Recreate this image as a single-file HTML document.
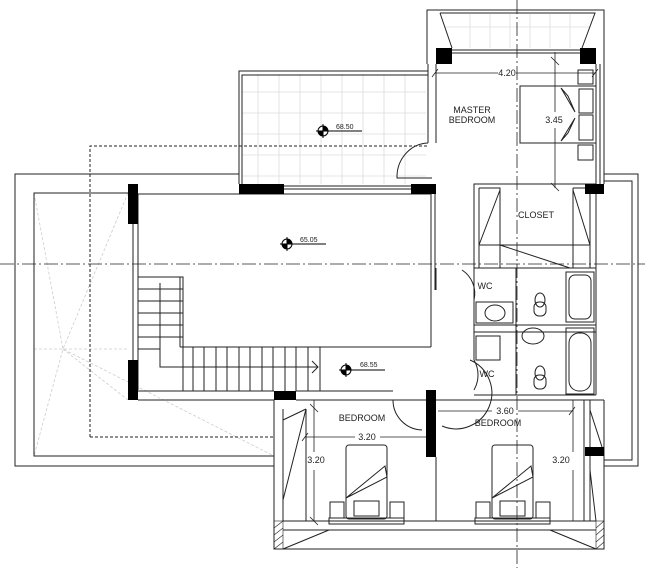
<!DOCTYPE html>
<html><head><style>html,body{margin:0;padding:0;background:#fff}svg{display:block}</style></head><body>
<svg width="645" height="568" viewBox="0 0 645 568" xmlns="http://www.w3.org/2000/svg" font-family="Liberation Sans, sans-serif">
<rect width="645" height="568" fill="#fff"/>
<!-- tiles -->
<g stroke="#ddd" stroke-width="0.8">
<path d="M258 74V184M279 74V184M300 74V184M321 74V184M342 74V184M363 74V184M384 74V184M405 74V184M242 92H426M242 113H426M242 134H426M242 155H426M242 176H426"/>
<path d="M470 14V48M490 14V48M510 14V48M530 14V48M550 14V48M570 14V48M445 27H590"/>
</g>
<!-- roof hip lines -->
<g stroke="#ccc" stroke-width="0.8" stroke-dasharray="3 2" fill="none">
<path d="M34 193L63 349L34 456M128 193L63 349L274 456M34 349H128M63 349L128 400"/>
</g>
<g stroke="#222" stroke-width="1" fill="none">
<!-- roof outline -->
<path d="M239 174H15V466H274"/>
<path d="M128 193H34V456H274"/>
<!-- dashed -->
<path d="M90 437V146H427M90 437H274" stroke-dasharray="3 2"/>
<!-- left balcony -->
<path d="M239 184V71H428M242 184V75H428"/>
<path d="M284 186H411M284 189H411"/>
<path d="M428 143A32 34 0 0 0 397 178H432"/>
<!-- master bedroom -->
<path d="M427 64V10H604V78"/>
<path d="M440 13H595L582 48M440 13L452 48"/>
<path d="M452 50H580M452 53H580"/>
<path d="M428 64V143M436 64V143"/>
<path d="M596 64V184M604 78V184M600 64V184"/>
<!-- bed master -->
<rect x="520" y="86" width="76" height="57"/>
<rect x="578" y="70" width="15" height="14"/><rect x="578" y="145" width="15" height="15"/>
<rect x="579" y="89" width="14" height="24"/><rect x="579" y="115" width="14" height="25"/>
<path d="M561 88L575 112L568 96ZM561 141L575 118L568 133Z"/>
<!-- closet -->
<rect x="474" y="184" width="122" height="84"/>
<path d="M479 188H500V268M479 188V268M573 188H590V268M573 188V268M479 245H590M500 245L570 268M500 190L479 245M573 190L590 245"/>
<!-- right terrace -->
<path d="M604 174H638V466H604M604 181H632V460H604"/>
<!-- living void -->
<path d="M138 194H431M138 194V390M133 224V360"/>
<path d="M431 194V347M435 194V290M180 347H431M180 277V347"/>
<path d="M138 391H274M138 400H274M296 391H393M296 400H393"/>
<path d="M393 400A30 30 0 0 0 422 430"/>
<!-- stairs -->
<path d="M138 277H183V391M160 283V367H318M312 361L318 367L312 373"/>
<path d="M138 289H183M138 301H183M138 313H183M138 325H183M138 337H183M138 349H160"/>
<path d="M193 347V391M204 347V391M216 347V391M227 347V391M239 347V391M250 347V391M262 347V391M273 347V391M285 347V391M296 347V391M308 347V391M320 347V391"/>
<!-- hall / WC -->
<path d="M436 268V290M474 268V360M462 270A28 28 0 0 1 474 300"/>
<path d="M474 325H596M474 332H596M474 395H596M596 268V395M516 268V395"/>
<rect x="476" y="302" width="37" height="21"/><ellipse cx="495" cy="313" rx="10" ry="8"/>
<rect x="476" y="336" width="24" height="24"/>
<ellipse cx="533" cy="336" rx="11" ry="8"/>
<rect x="534" y="302" width="12" height="14" rx="5"/><ellipse cx="540" cy="300" rx="5" ry="7"/>
<rect x="534" y="375" width="12" height="14" rx="5"/><ellipse cx="540" cy="373" rx="5" ry="7"/>
<rect x="566" y="272" width="28" height="50"/><rect x="569" y="275" width="22" height="44" rx="6"/>
<rect x="566" y="328" width="28" height="66"/><rect x="569" y="333" width="22" height="58" rx="10"/>
<path d="M474 360A30 30 0 0 1 474 390"/>
<path d="M470 360A30 30 0 0 1 442 426"/>
<!-- bedrooms -->
<path d="M274 400V549H604V400M296 400H604M283 521H596M283 530H596"/>
<path d="M283 409V521M306 409V521M584 400V521M590 400V521M283 420L306 409M283 500L306 409M590 410L602 447M590 470L596 521"/>
<path d="M283 549L329 530M596 549L550 530M436 457V521"/>
<rect x="329" y="518" width="75" height="6"/><rect x="475" y="518" width="75" height="6"/>
<!-- beds -->
<rect x="346" y="445" width="41" height="74" rx="3"/><rect x="354" y="501" width="25" height="15"/>
<rect x="330" y="502" width="14" height="16"/><rect x="390" y="502" width="14" height="16"/>
<path d="M346 498L385 466L387 477Z"/>
<rect x="492" y="445" width="41" height="74" rx="3"/><rect x="500" y="501" width="25" height="15"/>
<rect x="476" y="502" width="14" height="16"/><rect x="536" y="502" width="14" height="16"/>
<path d="M492 498L531 466L533 477Z"/>
</g>
<!-- dimension lines -->
<g stroke="#222" stroke-width="0.8">
<path d="M435 73H498M516 73H595M432 77L438 69M592 77L598 69"/>
<path d="M555 52V112M555 128V188M551 57L559 65M551 183L559 191"/>
<path d="M305 437H355M380 437H426M302 441L308 433"/>
<path d="M314 400V452M314 470V521M310 404L318 412M310 517L318 525"/>
<path d="M438 411H492M518 411H573M569 415L575 407"/>
<path d="M573 400V452M573 470V521"/>
</g>
<!-- axes -->
<g stroke="#222" stroke-width="0.8" stroke-dasharray="14 3 2 3">
<path d="M517 0V568"/><path d="M0 264H645"/>
</g>
<!-- black walls -->
<g fill="#000">
<rect x="436" y="48" width="16" height="16"/><rect x="580" y="48" width="16" height="16"/>
<rect x="239" y="184" width="45" height="10"/><rect x="411" y="184" width="25" height="10"/>
<rect x="128" y="184" width="10" height="40"/><rect x="128" y="360" width="10" height="40"/>
<rect x="274" y="391" width="22" height="9"/>
<rect x="585" y="184" width="19" height="10"/>
<rect x="426" y="390" width="10" height="67"/>
<rect x="585" y="447" width="19" height="9"/>
</g>
<g fill="none" stroke="#222" stroke-width="0.6">
<rect x="274" y="521" width="9" height="28"/><rect x="596" y="521" width="8" height="28"/>
<path d="M274 528L283 521M274 535L283 528M274 542L283 535M274 549L283 542M596 528L604 521M596 535L604 528M596 542L604 535M596 549L604 542"/>
</g>
<!-- level markers -->
<g stroke="#000" stroke-width="1">
<circle cx="323" cy="131" r="5" fill="#fff"/><path d="M323 124V138M316 131H362"/>
<circle cx="287" cy="244" r="5" fill="#fff"/><path d="M287 237V251M280 244H326"/>
<circle cx="346" cy="370" r="5" fill="#fff"/><path d="M346 363V377M339 370H385"/>
</g>
<path d="M323 126A5 5 0 0 1 328 131H323ZM323 136A5 5 0 0 1 318 131H323Z" fill="#000"/>
<path d="M287 239A5 5 0 0 1 292 244H287ZM287 249A5 5 0 0 1 282 244H287Z" fill="#000"/>
<path d="M346 365A5 5 0 0 1 351 370H346ZM346 375A5 5 0 0 1 341 370H346Z" fill="#000"/>
<g font-size="7" fill="#222">
<text x="336" y="129">68.50</text><text x="300" y="242">65.05</text><text x="360" y="367">68.55</text>
</g>
<g font-size="9" fill="#222" text-anchor="middle">
<text x="472" y="113">MASTER</text><text x="472" y="123">BEDROOM</text>
<text x="536" y="218">CLOSET</text>
<text x="485" y="289">WC</text><text x="487" y="377">WC</text>
<text x="362" y="421">BEDROOM</text><text x="498" y="426">BEDROOM</text>
<text x="507" y="76">4.20</text><text x="554" y="123">3.45</text>
<text x="367" y="440">3.20</text><text x="316" y="463">3.20</text>
<text x="505" y="414">3.60</text><text x="561" y="463">3.20</text>
</g>
</svg>
</body></html>
